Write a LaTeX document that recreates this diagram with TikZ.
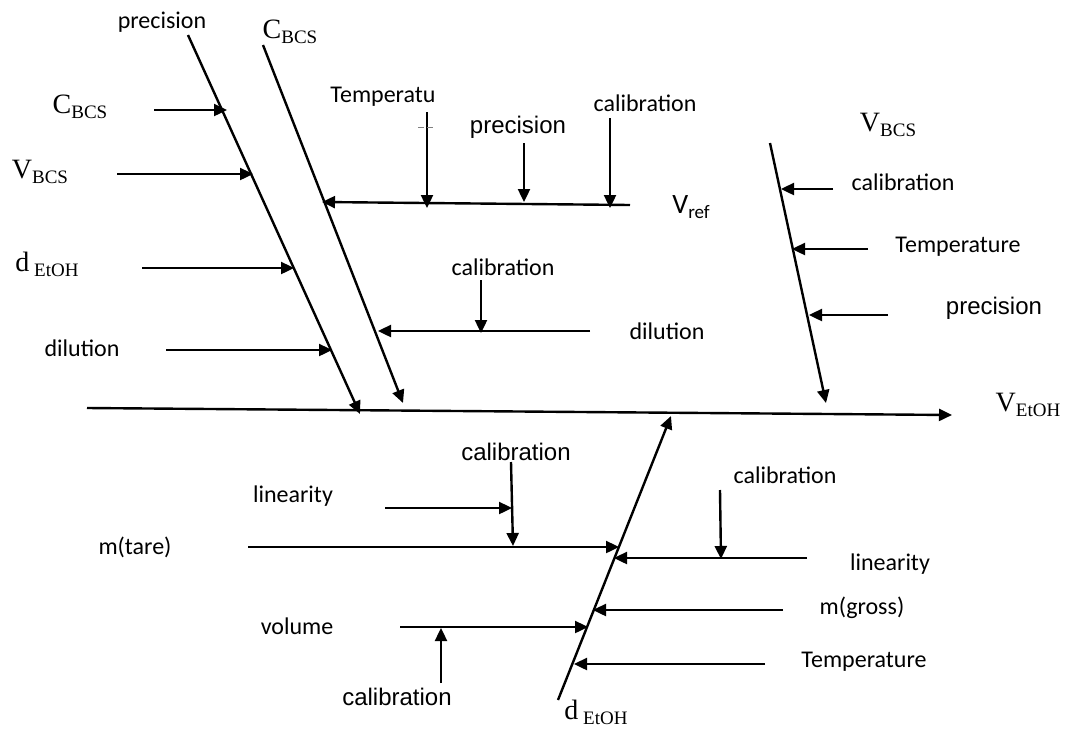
\documentclass[tikz,border=0pt]{standalone}
\usepackage{fontspec}
\setmainfont{Carlito}
\newfontfamily\arialfont{Liberation Sans}
\newfontfamily\timesfont{Liberation Serif}
\usetikzlibrary{arrows.meta}
\newcommand{\lsub}[1]{\raisebox{-2.5pt}{\fontsize{9.5}{10}\selectfont #1}}

\tikzset{
  bone/.style={line width=1.2pt},
  cause/.style={line width=1.2pt,-{Triangle[length=6.5pt,width=6pt]}},
  lbl/.style={inner sep=1pt,font=\fontsize{12}{14}\selectfont},
  albl/.style={inner sep=1pt,font=\arialfont\fontsize{12}{14}\selectfont},
  slbl/.style={inner sep=1pt,font=\timesfont\fontsize{14}{16}\selectfont},
}

\begin{document}
\begin{tikzpicture}[x=0.5pt,y=-0.5pt]
    \useasboundingbox (0,0) rectangle (1073,729);
    % main spine
    \coordinate (spineL) at (87,408);
    \coordinate (spineR) at (952,415);
    \node[slbl] (vetoh) at (1028,405) {V\lsub{EtOH}};
    \draw[cause] (spineL) -- (spineR);

    % upper left bone (precision)
    \coordinate (pA) at (188,35);
    \coordinate (pB) at (360,414);
    \node[lbl] (precA) at (162,22) {precision};
    \draw[cause] (pA) -- (pB);
    \node[slbl] (cbcsA) at (80,107) {C\lsub{BCS}};
    \coordinate (cbcsS) at (154,110);
    \coordinate (cbcsT) at (227,110);
    \draw[cause] (cbcsS) -- (cbcsT);
    \node[slbl] (vbcsA) at (40,172) {V\lsub{BCS}};
    \coordinate (vbcsS) at (117,174);
    \coordinate (vbcsT) at (253,174);
    \draw[cause] (vbcsS) -- (vbcsT);
    \node[slbl] (detohA) at (47,264) {d\lsub{ EtOH}};
    \coordinate (detohS) at (142,268);
    \coordinate (detohT) at (294,268);
    \draw[cause] (detohS) -- (detohT);
    \node[lbl] (dilA) at (82,348) {dilution};
    \coordinate (dilS) at (166,350);
    \coordinate (dilT) at (332,350);
    \draw[cause] (dilS) -- (dilT);

    % upper second bone (C_BCS)
    \coordinate (cA) at (263,45);
    \coordinate (cB) at (403,403);
    \node[slbl] (cbcsB) at (290,32) {C\lsub{BCS}};
    \draw[cause] (cA) -- (cB);
    % V_ref branch
    \coordinate (vrefS) at (630,205);
    \coordinate (vrefT) at (322,202);
    \node[lbl,anchor=west] (vref) at (670,207) {\fontsize{14}{16}\selectfont V\lsub{ref}};
    \draw[cause] (vrefS) -- (vrefT);
    \node[lbl] (tempA) at (383,97) {Temperatu};
    \coordinate (tempS) at (427,112);
    \coordinate (tempT) at (427,208);
    \draw[cause] (tempS) -- (tempT);
    \draw[gray,line width=0.3pt,dash pattern=on 3pt off 1.5pt] (418,127) -- (434,127);
    \node[albl] (precB) at (518,127) {precision};
    \coordinate (precBS) at (524,143);
    \coordinate (precBT) at (524,202);
    \draw[cause] (precBS) -- (precBT);
    \node[lbl] (calA) at (645,103) {calibration};
    \coordinate (calAS) at (610,118);
    \coordinate (calAT) at (610,208);
    \draw[cause] (calAS) -- (calAT);
    % dilution branch
    \coordinate (dilBS) at (590,331);
    \coordinate (dilBT) at (378,331);
    \node[lbl] (dilB) at (667,331) {dilution};
    \draw[cause] (dilBS) -- (dilBT);
    \node[lbl] (calB) at (503,267) {calibration};
    \coordinate (calBS) at (481,280);
    \coordinate (calBT) at (481,333);
    \draw[cause] (calBS) -- (calBT);

    % upper right bone (V_BCS)
    \coordinate (vA) at (770,143);
    \coordinate (vB) at (826,403);
    \node[slbl] (vbcsB) at (888,125) {V\lsub{BCS}};
    \draw[cause] (vA) -- (vB);
    \node[lbl] (calC) at (903,182) {calibration};
    \coordinate (calCS) at (833,189);
    \coordinate (calCT) at (781,189);
    \draw[cause] (calCS) -- (calCT);
    \node[lbl] (tempB) at (958,247) {Temperature};
    \coordinate (tempBS) at (868,249);
    \coordinate (tempBT) at (792,249);
    \draw[cause] (tempBS) -- (tempBT);
    \node[albl] (precC) at (994,308) {precision};
    \coordinate (precCS) at (888,315);
    \coordinate (precCT) at (809,315);
    \draw[cause] (precCS) -- (precCT);

    % lower bone (d_EtOH)
    \coordinate (dA) at (558,700);
    \coordinate (dB) at (671,416);
    \node[slbl] (detohB) at (596,712) {d\lsub{ EtOH}};
    \draw[cause] (dA) -- (dB);
    % m(tare)
    \node[lbl] (mtare) at (135,547) {m(tare)};
    \coordinate (mtareS) at (248,547);
    \coordinate (mtareT) at (619,547);
    \draw[cause] (mtareS) -- (mtareT);
    \node[albl] (calD) at (516,452) {calibration};
    \coordinate (calDS) at (511,462);
    \coordinate (calDT) at (513,546);
    \draw[cause] (calDS) -- (calDT);
    \node[lbl] (linA) at (293,496) {linearity};
    \coordinate (linAS) at (385,508);
    \coordinate (linAT) at (512,508);
    \draw[cause] (linAS) -- (linAT);
    % linearity (right)
    \node[lbl] (linB) at (890,564) {linearity};
    \coordinate (linBS) at (807,558);
    \coordinate (linBT) at (614,558);
    \draw[cause] (linBS) -- (linBT);
    \node[lbl] (calE) at (785,475) {calibration};
    \coordinate (calES) at (720,490);
    \coordinate (calET) at (721,559);
    \draw[cause] (calES) -- (calET);
    % m(gross)
    \node[lbl] (mgross) at (862,608) {m(gross)};
    \coordinate (mgrossS) at (783,610);
    \coordinate (mgrossT) at (593,610);
    \draw[cause] (mgrossS) -- (mgrossT);
    % volume
    \node[lbl] (vol) at (297,626) {volume};
    \coordinate (volS) at (400,627);
    \coordinate (volT) at (588,627);
    \draw[cause] (volS) -- (volT);
    \node[albl] (calF) at (397,697) {calibration};
    \coordinate (calFS) at (441,683);
    \coordinate (calFT) at (441,628);
    \draw[cause] (calFS) -- (calFT);
    % Temperature
    \node[lbl] (tempC) at (864,662) {Temperature};
    \coordinate (tempCS) at (765,664);
    \coordinate (tempCT) at (574,664);
    \draw[cause] (tempCS) -- (tempCT);
\end{tikzpicture}
\end{document}
